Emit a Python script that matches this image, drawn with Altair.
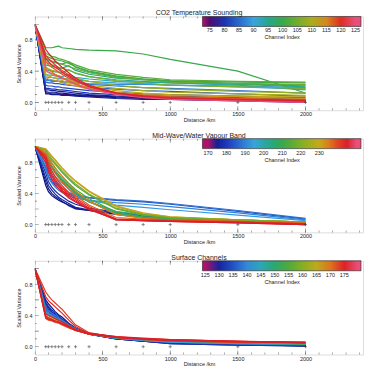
import altair as alt
import pandas as pd

FONT = "Liberation Sans"
INK = "#222222"

# distances (km) at which each curve is sampled
DIST = [0, 80, 100, 125, 150, 175, 200, 250, 300, 400, 600, 800, 1000, 1500, 2000]
# '+' markers drawn along y = 0
MARKER_DIST = [80, 100, 125, 150, 175, 200, 250, 300, 400, 600, 800, 1000, 1500, 2000]

X_TICKS = [0, 500, 1000, 1500, 2000]
X_MINOR = list(range(0, 2401, 100))
Y_TICKS = [0.0, 0.2, 0.4, 0.6, 0.8, 1.0]
Y_MINOR = [0.1, 0.3, 0.5, 0.7, 0.9]

# ---------------- panel 1 ----------------
CO2_TITLE = "CO2 Temperature Sounding"
CO2_CBAR = (72.45, 126.9)
CO2_CBAR_TICKS = [75, 80, 85, 90, 95, 100, 105, 110, 115, 120, 125]
CO2_CHANNELS = [75, 76, 77, 78, 80, 82, 84, 86, 88, 90, 92, 94, 96, 98, 100,
                101, 103, 104, 106, 108, 110, 112, 114, 116, 118, 120, 122, 124, 125]
CO2_VALUES = [
    [1.0, 0.12, 0.12, 0.11, 0.11, 0.11, 0.10, 0.10, 0.09, 0.08, 0.06, 0.05, 0.04, 0.02, 0.00],
    [1.0, 0.14, 0.13, 0.13, 0.13, 0.12, 0.12, 0.11, 0.10, 0.09, 0.07, 0.06, 0.05, 0.03, 0.01],
    [1.0, 0.11, 0.11, 0.10, 0.10, 0.10, 0.09, 0.09, 0.08, 0.07, 0.05, 0.04, 0.04, 0.03, 0.02],
    [1.0, 0.16, 0.16, 0.15, 0.15, 0.14, 0.14, 0.13, 0.12, 0.10, 0.08, 0.07, 0.06, 0.04, 0.02],
    [1.0, 0.18, 0.18, 0.17, 0.17, 0.16, 0.16, 0.15, 0.14, 0.12, 0.10, 0.09, 0.08, 0.06, 0.04],
    [1.0, 0.22, 0.21, 0.21, 0.20, 0.20, 0.19, 0.18, 0.17, 0.15, 0.13, 0.11, 0.10, 0.08, 0.06],
    [1.0, 0.26, 0.25, 0.25, 0.24, 0.24, 0.23, 0.22, 0.21, 0.19, 0.17, 0.15, 0.14, 0.11, 0.08],
    [1.0, 0.30, 0.29, 0.28, 0.28, 0.27, 0.27, 0.26, 0.25, 0.23, 0.21, 0.19, 0.18, 0.15, 0.12],
    [1.0, 0.28, 0.28, 0.27, 0.27, 0.27, 0.26, 0.26, 0.25, 0.24, 0.23, 0.23, 0.22, 0.21, 0.19],
    [1.0, 0.33, 0.32, 0.32, 0.31, 0.31, 0.30, 0.30, 0.29, 0.27, 0.25, 0.24, 0.22, 0.20, 0.17],
    [1.0, 0.36, 0.35, 0.35, 0.34, 0.34, 0.33, 0.36, 0.32, 0.30, 0.27, 0.26, 0.25, 0.22, 0.16],
    [1.0, 0.42, 0.41, 0.40, 0.39, 0.39, 0.38, 0.42, 0.37, 0.33, 0.29, 0.27, 0.25, 0.23, 0.20],
    [1.0, 0.48, 0.47, 0.46, 0.45, 0.44, 0.44, 0.47, 0.41, 0.36, 0.31, 0.29, 0.27, 0.24, 0.22],
    [1.0, 0.55, 0.54, 0.52, 0.51, 0.50, 0.49, 0.52, 0.45, 0.39, 0.33, 0.30, 0.27, 0.24, 0.21],
    [1.0, 0.70, 0.70, 0.70, 0.71, 0.72, 0.70, 0.69, 0.68, 0.67, 0.66, 0.62, 0.55, 0.40, 0.12],
    [1.0, 0.60, 0.58, 0.56, 0.55, 0.54, 0.53, 0.50, 0.46, 0.40, 0.34, 0.30, 0.28, 0.26, 0.25],
    [1.0, 0.63, 0.61, 0.59, 0.58, 0.56, 0.55, 0.52, 0.48, 0.42, 0.36, 0.32, 0.29, 0.27, 0.26],
    [1.0, 0.57, 0.55, 0.53, 0.52, 0.50, 0.49, 0.46, 0.43, 0.38, 0.32, 0.29, 0.26, 0.24, 0.23],
    [1.0, 0.52, 0.50, 0.48, 0.47, 0.45, 0.44, 0.41, 0.38, 0.33, 0.28, 0.25, 0.22, 0.20, 0.18],
    [1.0, 0.45, 0.43, 0.41, 0.40, 0.38, 0.37, 0.34, 0.31, 0.27, 0.22, 0.19, 0.17, 0.14, 0.12],
    [1.0, 0.40, 0.38, 0.36, 0.34, 0.33, 0.31, 0.29, 0.26, 0.22, 0.18, 0.15, 0.13, 0.11, 0.09],
    [1.0, 0.36, 0.34, 0.32, 0.31, 0.29, 0.28, 0.25, 0.23, 0.19, 0.15, 0.12, 0.10, 0.08, 0.07],
    [1.0, 0.32, 0.30, 0.29, 0.28, 0.27, 0.25, 0.23, 0.21, 0.17, 0.13, 0.10, 0.09, 0.07, 0.05],
    [1.0, 0.45, 0.42, 0.39, 0.36, 0.34, 0.32, 0.28, 0.24, 0.18, 0.12, 0.09, 0.07, 0.05, 0.04],
    [1.0, 0.52, 0.48, 0.45, 0.42, 0.39, 0.36, 0.31, 0.27, 0.20, 0.12, 0.09, 0.07, 0.05, 0.03],
    [1.0, 0.60, 0.56, 0.52, 0.48, 0.44, 0.41, 0.35, 0.29, 0.21, 0.12, 0.08, 0.06, 0.04, 0.03],
    [1.0, 0.68, 0.63, 0.58, 0.53, 0.49, 0.45, 0.38, 0.31, 0.22, 0.12, 0.08, 0.05, 0.03, 0.02],
    [1.0, 0.56, 0.52, 0.48, 0.45, 0.42, 0.39, 0.33, 0.28, 0.20, 0.11, 0.07, 0.05, 0.03, 0.01],
    [1.0, 0.42, 0.39, 0.37, 0.35, 0.33, 0.31, 0.27, 0.23, 0.17, 0.10, 0.06, 0.04, 0.02, 0.00],
]

# ---------------- panel 2 ----------------
MW_TITLE = "Mid-Wave/Water Vapour Band"
MW_CBAR = (167.0, 252.5)
MW_CBAR_TICKS = [170, 180, 190, 200, 210, 220, 230]
MW_CHANNELS = [172, 174, 176, 178, 184, 187, 190, 193, 200, 203, 206, 209, 212,
               215, 228, 231, 218, 235, 238, 241, 243, 245, 247]
MW_VALUES = [
    [1.0, 0.50, 0.42, 0.37, 0.34, 0.31, 0.29, 0.25, 0.21, 0.18, 0.14, 0.10, 0.07, 0.04, 0.01],
    [1.0, 0.55, 0.46, 0.40, 0.36, 0.33, 0.30, 0.24, 0.20, 0.18, 0.13, 0.09, 0.06, 0.03, 0.00],
    [1.0, 0.60, 0.50, 0.44, 0.39, 0.35, 0.32, 0.27, 0.22, 0.19, 0.15, 0.11, 0.08, 0.05, 0.02],
    [1.0, 0.66, 0.55, 0.48, 0.43, 0.39, 0.36, 0.30, 0.26, 0.21, 0.16, 0.12, 0.09, 0.05, 0.02],
    [1.0, 0.72, 0.62, 0.55, 0.50, 0.46, 0.43, 0.39, 0.36, 0.34, 0.31, 0.29, 0.26, 0.17, 0.07],
    [1.0, 0.75, 0.66, 0.58, 0.53, 0.49, 0.46, 0.41, 0.38, 0.35, 0.32, 0.30, 0.27, 0.18, 0.08],
    [1.0, 0.70, 0.60, 0.53, 0.48, 0.44, 0.41, 0.37, 0.34, 0.31, 0.28, 0.26, 0.23, 0.15, 0.06],
    [1.0, 0.78, 0.70, 0.62, 0.56, 0.51, 0.47, 0.41, 0.36, 0.31, 0.25, 0.22, 0.19, 0.12, 0.05],
    [1.0, 0.84, 0.76, 0.68, 0.62, 0.57, 0.53, 0.46, 0.39, 0.29, 0.17, 0.12, 0.09, 0.06, 0.03],
    [1.0, 0.86, 0.79, 0.72, 0.66, 0.61, 0.56, 0.48, 0.40, 0.29, 0.15, 0.10, 0.08, 0.05, 0.03],
    [1.0, 0.88, 0.82, 0.75, 0.69, 0.64, 0.59, 0.50, 0.42, 0.30, 0.14, 0.09, 0.07, 0.05, 0.02],
    [1.0, 0.87, 0.80, 0.73, 0.67, 0.62, 0.57, 0.49, 0.41, 0.30, 0.13, 0.09, 0.07, 0.05, 0.03],
    [1.0, 0.90, 0.84, 0.78, 0.72, 0.67, 0.62, 0.53, 0.45, 0.33, 0.16, 0.10, 0.08, 0.05, 0.03],
    [1.0, 0.93, 0.88, 0.82, 0.77, 0.72, 0.67, 0.58, 0.50, 0.38, 0.20, 0.12, 0.09, 0.06, 0.03],
    [1.0, 0.96, 0.92, 0.87, 0.82, 0.77, 0.72, 0.63, 0.55, 0.42, 0.23, 0.14, 0.10, 0.06, 0.03],
    [1.0, 0.97, 0.93, 0.88, 0.83, 0.78, 0.73, 0.64, 0.56, 0.43, 0.24, 0.15, 0.10, 0.06, 0.03],
    [1.0, 0.95, 0.90, 0.84, 0.79, 0.74, 0.69, 0.60, 0.52, 0.39, 0.21, 0.13, 0.09, 0.06, 0.03],
    [1.0, 0.92, 0.86, 0.79, 0.73, 0.67, 0.62, 0.52, 0.43, 0.30, 0.13, 0.08, 0.06, 0.04, 0.02],
    [1.0, 0.90, 0.82, 0.74, 0.66, 0.60, 0.55, 0.45, 0.37, 0.25, 0.09, 0.07, 0.06, 0.04, 0.02],
    [1.0, 0.88, 0.78, 0.69, 0.61, 0.55, 0.50, 0.41, 0.34, 0.23, 0.07, 0.06, 0.05, 0.03, 0.01],
    [1.0, 0.85, 0.74, 0.65, 0.58, 0.52, 0.47, 0.38, 0.32, 0.21, 0.06, 0.05, 0.04, 0.03, 0.01],
    [1.0, 0.83, 0.72, 0.62, 0.55, 0.49, 0.44, 0.36, 0.30, 0.20, 0.06, 0.05, 0.04, 0.02, 0.00],
    [1.0, 0.80, 0.68, 0.58, 0.51, 0.46, 0.42, 0.34, 0.29, 0.19, 0.07, 0.05, 0.04, 0.02, 0.00],
]

# ---------------- panel 3 ----------------
SF_TITLE = "Surface Channels"
SF_CBAR = (124.0, 181.0)
SF_CBAR_TICKS = [125, 130, 135, 140, 145, 150, 155, 160, 165, 170, 175]
SF_CHANNELS = [127, 128, 129, 130, 131, 132, 134, 136, 139, 142, 150,
               166, 170, 172, 173, 174, 175, 176, 177]
SF_VALUES = [
    [1.0, 0.55, 0.50, 0.45, 0.41, 0.37, 0.34, 0.27, 0.22, 0.16, 0.10, 0.07, 0.04, 0.02, 0.01],
    [1.0, 0.60, 0.55, 0.50, 0.45, 0.41, 0.38, 0.30, 0.24, 0.17, 0.11, 0.07, 0.05, 0.03, 0.01],
    [1.0, 0.50, 0.46, 0.42, 0.39, 0.36, 0.33, 0.27, 0.22, 0.16, 0.10, 0.07, 0.05, 0.03, 0.02],
    [1.0, 0.46, 0.43, 0.40, 0.37, 0.35, 0.33, 0.27, 0.22, 0.16, 0.11, 0.08, 0.05, 0.03, 0.01],
    [1.0, 0.52, 0.48, 0.44, 0.41, 0.38, 0.35, 0.29, 0.23, 0.17, 0.11, 0.08, 0.05, 0.03, 0.02],
    [1.0, 0.57, 0.52, 0.47, 0.43, 0.40, 0.36, 0.29, 0.23, 0.16, 0.10, 0.07, 0.04, 0.02, 0.01],
    [1.0, 0.48, 0.45, 0.42, 0.39, 0.36, 0.34, 0.28, 0.23, 0.17, 0.11, 0.08, 0.06, 0.03, 0.02],
    [1.0, 0.44, 0.41, 0.39, 0.36, 0.34, 0.32, 0.27, 0.22, 0.16, 0.11, 0.08, 0.06, 0.04, 0.02],
    [1.0, 0.50, 0.46, 0.43, 0.40, 0.37, 0.34, 0.28, 0.23, 0.17, 0.11, 0.08, 0.06, 0.04, 0.03],
    [1.0, 0.45, 0.42, 0.40, 0.37, 0.35, 0.32, 0.27, 0.22, 0.16, 0.11, 0.08, 0.06, 0.04, 0.03],
    [1.0, 0.42, 0.40, 0.38, 0.36, 0.34, 0.32, 0.27, 0.22, 0.16, 0.11, 0.09, 0.07, 0.05, 0.03],
    [1.0, 0.40, 0.38, 0.36, 0.34, 0.32, 0.30, 0.26, 0.22, 0.17, 0.12, 0.10, 0.08, 0.06, 0.04],
    [1.0, 0.38, 0.36, 0.34, 0.32, 0.31, 0.29, 0.25, 0.21, 0.16, 0.12, 0.10, 0.08, 0.06, 0.05],
    [1.0, 0.36, 0.34, 0.33, 0.31, 0.30, 0.28, 0.24, 0.21, 0.16, 0.12, 0.10, 0.09, 0.07, 0.05],
    [1.0, 0.70, 0.65, 0.60, 0.56, 0.52, 0.48, 0.38, 0.28, 0.18, 0.12, 0.09, 0.07, 0.06, 0.05],
    [1.0, 0.64, 0.59, 0.55, 0.51, 0.47, 0.43, 0.34, 0.26, 0.17, 0.12, 0.10, 0.08, 0.06, 0.05],
    [1.0, 0.42, 0.40, 0.38, 0.36, 0.34, 0.32, 0.27, 0.22, 0.17, 0.13, 0.10, 0.09, 0.07, 0.06],
    [1.0, 0.39, 0.37, 0.35, 0.33, 0.32, 0.30, 0.26, 0.22, 0.17, 0.13, 0.11, 0.09, 0.07, 0.06],
    [1.0, 0.37, 0.35, 0.34, 0.32, 0.31, 0.29, 0.25, 0.21, 0.16, 0.12, 0.10, 0.08, 0.07, 0.05],
]

# colour table (fraction along colour bar -> colour)
STOP_F = [0.0, 0.042, 0.05, 0.16, 0.32, 0.43, 0.51, 0.64, 0.74, 0.82, 0.88, 0.945, 0.955, 1.0]
STOP_C = ["#b0126a", "#b0126a", "#0c0c78", "#1e3cc0", "#38a4e0", "#22a882", "#3aa846",
          "#8cb020", "#c8a81a", "#e06a1e", "#e02424", "#d81c30", "#e8507c", "#e8507c"]

W, H = 329, 94
XS = alt.Scale(domain=[0, 2425], nice=False, zero=False)
YS = alt.Scale(domain=[-0.1, 1.1], nice=False, zero=False)


def panel(title, channels, rows, cbar, cticks):
    lo, hi = cbar
    df = pd.DataFrame([{"channel": c, "dist": d, "v": v}
                       for c, row in zip(channels, rows) for d, v in zip(DIST, row)])
    cscale = alt.Scale(domain=[lo + f * (hi - lo) for f in STOP_F], range=STOP_C,
                       interpolate="rgb")
    legend = alt.Legend(
        orient="none", legendX=168, legendY=0, direction="horizontal",
        gradientLength=159, gradientThickness=10, padding=0,
        values=cticks, format="d", labelFontSize=5.5, labelColor=INK, labelAlign="center",
        labelOffset=2, labelOverlap=False, labelFont=FONT,
        title="Channel Index", titleOrient="bottom", titleAnchor="middle",
        titleFontSize=5.5, titleFontWeight="normal", titleColor=INK, titlePadding=1,
        titleFont=FONT, gradientStrokeColor=INK, gradientStrokeWidth=0.6,
    )
    xaxis = alt.Axis(values=X_TICKS, format="d", title="Distance /km",
                     domain=False, ticks=False, grid=False, labelFontSize=5.5,
                     titleFontSize=5.5, titleFontWeight="normal", labelPadding=1.5,
                     titlePadding=0, labelColor=INK, titleColor=INK, labelFlush=False,
                     labelFont=FONT, titleFont=FONT)
    yaxis = alt.Axis(values=Y_TICKS, format=".1f", title="Scaled Variance", domain=False,
                     ticks=False, grid=False, labelFontSize=5.5, titleFontSize=5.5,
                     titleFontWeight="normal", labelPadding=3, titlePadding=3,
                     labelColor=INK, titleColor=INK, labelFont=FONT, titleFont=FONT)

    lines = alt.Chart(df).mark_line(strokeWidth=1.2, clip=True).encode(
        x=alt.X("dist:Q", scale=XS, axis=xaxis),
        y=alt.Y("v:Q", scale=YS, axis=yaxis),
        color=alt.Color("channel:Q", scale=cscale, legend=legend),
        detail="channel:N",
        order=alt.Order("dist:Q"),
    )
    marks = alt.Chart(pd.DataFrame({"dist": MARKER_DIST, "v": [0.0] * len(MARKER_DIST)})).mark_point(
        shape="M-1,0H1M0,-1V1", size=10, strokeWidth=0.8, color="#333333", filled=False,
        clip=True
    ).encode(x=alt.X("dist:Q", scale=XS), y=alt.Y("v:Q", scale=YS))

    tick_layers = []
    for vals, size in ((X_TICKS, 8), (X_MINOR, 4)):
        tdf = pd.DataFrame({"t": vals})
        for ypix in (0, H):
            tick_layers.append(
                alt.Chart(tdf).mark_tick(size=size, thickness=0.6, color="#333333", clip=True)
                .encode(x=alt.X("t:Q", scale=XS), y=alt.value(ypix)))
    for vals, size in ((Y_TICKS, 8), (Y_MINOR, 4)):
        tdf = pd.DataFrame({"t": vals})
        tick_layers.append(
            alt.Chart(tdf).mark_tick(size=size, thickness=0.6, color="#333333", clip=True,
                                     orient="horizontal")
            .encode(y=alt.Y("t:Q", scale=YS), x=alt.value(0)))

    return alt.layer(*tick_layers, lines, marks).properties(
        width=W, height=H,
        title=alt.TitleParams(title, fontSize=7, fontWeight="normal", offset=0,
                              anchor="middle", color=INK, font=FONT),
    )


p1 = panel(CO2_TITLE, CO2_CHANNELS, CO2_VALUES, CO2_CBAR, CO2_CBAR_TICKS)
p2 = panel(MW_TITLE, MW_CHANNELS, MW_VALUES, MW_CBAR, MW_CBAR_TICKS)
p3 = panel(SF_TITLE, SF_CHANNELS, SF_VALUES, SF_CBAR, SF_CBAR_TICKS)

chart = (
    alt.vconcat(p1, p2, p3, spacing=7.5)
    .resolve_scale(color="independent", x="independent", y="independent")
    .resolve_legend(color="independent")
    .properties(padding={"left": 7, "top": 0, "right": 0, "bottom": 0})
    .configure_view(stroke="#333333", strokeWidth=0.8)
    .configure(font=FONT, background="white")
)

chart.save("out.html", embed_options={"renderer": "svg", "actions": False})
